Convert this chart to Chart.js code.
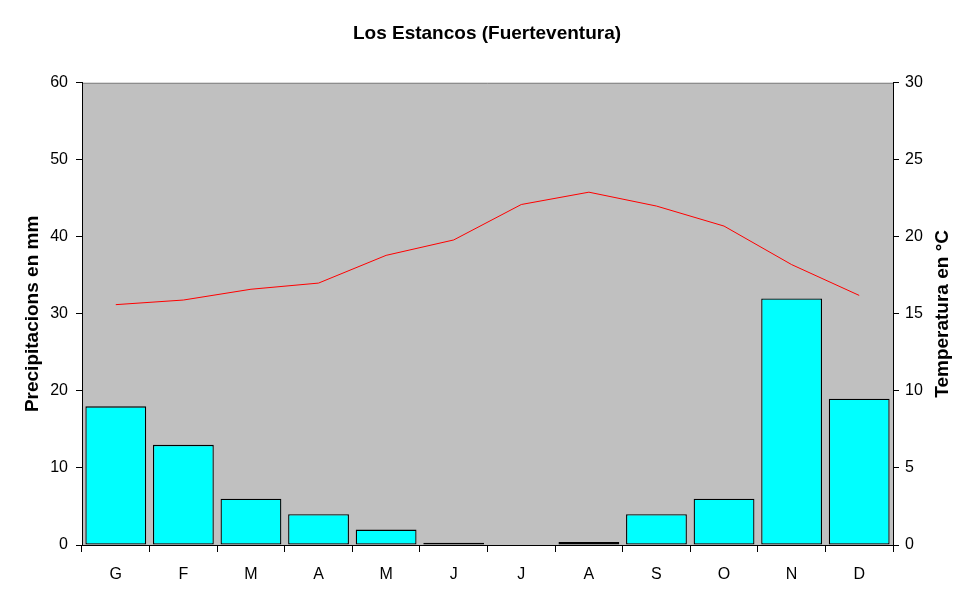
<!DOCTYPE html>
<html>
<head>
<meta charset="utf-8">
<script src="https://cdn.jsdelivr.net/npm/chart.js@4"></script>
<style>
  html, body { margin: 0; padding: 0; background: #fff; }
  #wrap { width: 974px; height: 604px; }
</style>
</head>
<body>
<div id="wrap"><canvas id="climaChart" width="974" height="604"></canvas></div>
<script>
// dades del climograma
const mesos = ['G', 'F', 'M', 'A', 'M', 'J', 'J', 'A', 'S', 'O', 'N', 'D'];
const precipitacio = [18, 13, 6, 4, 2, 0.3, 0, 0.4, 4, 6, 32, 19];
const temperatura = [15.6, 15.9, 16.6, 17.0, 18.8, 19.8, 22.1, 22.9, 22.0, 20.7, 18.2, 16.2];

const fontFamily = '"Liberation Sans", Arial, sans-serif';

// fons gris de l'area del grafic
const plotBackground = {
    id: 'plotBackground',
    beforeDraw(chart) {
        const { ctx, chartArea: a } = chart;
        ctx.save();
        ctx.fillStyle = '#c0c0c0';
        ctx.fillRect(a.left, a.top, a.right - a.left, a.bottom - a.top);
        ctx.strokeStyle = '#808080';
        ctx.lineWidth = 1;
        ctx.beginPath();
        ctx.moveTo(a.left, a.top + 0.5);
        ctx.lineTo(a.right, a.top + 0.5);
        ctx.stroke();
        ctx.restore();
    }
};

// titol de l'eix dret, llegit de baix a dalt
const rightTitle = {
    id: 'rightTitle',
    afterDraw(chart) {
        const { ctx, chartArea: a } = chart;
        ctx.save();
        ctx.translate(943, (a.top + a.bottom) / 2);
        ctx.rotate(-Math.PI / 2);
        ctx.font = 'bold 19px ' + fontFamily;
        ctx.fillStyle = '#000';
        ctx.textAlign = 'center';
        ctx.textBaseline = 'middle';
        ctx.fillText('Temperatura en °C', 0, 0);
        ctx.restore();
    }
};

const ctx = document.getElementById('climaChart').getContext('2d');
new Chart(ctx, {
    data: {
        labels: mesos,
        datasets: [
            {
                type: 'line',
                label: 'Temperatura',
                data: temperatura,
                yAxisID: 'yT',
                borderColor: '#ff0000',
                borderWidth: 1,
                pointRadius: 0,
                tension: 0,
                order: 0
            },
            {
                type: 'bar',
                label: 'Precipitació',
                data: precipitacio,
                yAxisID: 'yP',
                backgroundColor: '#00ffff',
                borderColor: '#000000',
                borderWidth: 1.3,
                borderSkipped: false,
                barPercentage: 0.9,
                categoryPercentage: 1.0,
                order: 1
            }
        ]
    },
    options: {
        responsive: false,
        animation: false,
        layout: { padding: 0 },
        plugins: {
            legend: { display: false },
            tooltip: { enabled: false },
            title: {
                display: true,
                text: 'Los Estancos (Fuerteventura)',
                color: '#000',
                font: { family: fontFamily, size: 19, weight: 'bold' },
                padding: { top: 22, bottom: 38 }
            }
        },
        scales: {
            x: {
                grid: {
                    offset: true,
                    drawOnChartArea: false,
                    drawTicks: true,
                    tickLength: 7,
                    tickColor: '#000'
                },
                border: { display: true, color: '#000' },
                ticks: {
                    color: '#000',
                    padding: 13,
                    font: { family: fontFamily, size: 16 }
                },
                afterFit(scale) { scale.height = 59; }
            },
            yP: {
                position: 'left',
                min: 0,
                max: 60,
                ticks: {
                    stepSize: 10,
                    color: '#000',
                    padding: 8,
                    font: { family: fontFamily, size: 16 }
                },
                grid: {
                    drawOnChartArea: false,
                    tickLength: 6,
                    tickColor: '#000'
                },
                border: { display: true, color: '#000' },
                title: {
                    display: true,
                    text: 'Precipitacions en mm',
                    color: '#000',
                    font: { family: fontFamily, size: 19, weight: 'bold' },
                    padding: { top: 21, bottom: 0 }
                },
                afterFit(scale) { scale.width = 82; }
            },
            yT: {
                position: 'right',
                min: 0,
                max: 30,
                ticks: {
                    stepSize: 5,
                    color: '#000',
                    padding: 6,
                    font: { family: fontFamily, size: 16 }
                },
                grid: {
                    drawOnChartArea: false,
                    tickLength: 6,
                    tickColor: '#000'
                },
                border: { display: true, color: '#000' },
                afterFit(scale) { scale.width = 81; }
            }
        }
    },
    plugins: [plotBackground, rightTitle]
});
</script>
</body>
</html>
